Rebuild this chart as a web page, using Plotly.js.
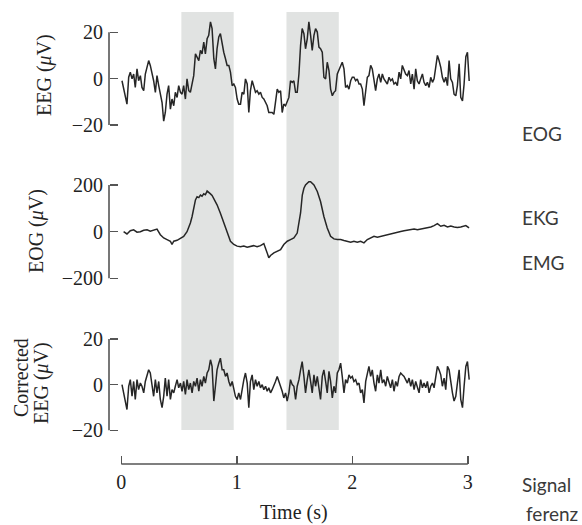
<!DOCTYPE html>
<html>
<head>
<meta charset="utf-8">
<script src="https://cdn.plot.ly/plotly-3.0.1.min.js"></script>
<style>html,body{margin:0;padding:0;background:#fff;}#chart{width:582px;height:525px;}</style>
</head>
<body>
<div id="chart"></div>
<script>
// ---- data ----
const time = [0.006,0.020,0.035,0.049,0.064,0.078,0.093,0.107,0.121,0.136,
0.150,0.165,0.179,0.194,0.208,0.223,0.237,0.251,0.266,0.280,
0.295,0.309,0.324,0.338,0.353,0.367,0.381,0.396,0.410,0.425,
0.439,0.454,0.468,0.483,0.497,0.512,0.526,0.540,0.555,0.569,
0.584,0.598,0.613,0.627,0.642,0.656,0.671,0.685,0.699,0.714,
0.728,0.743,0.757,0.772,0.786,0.801,0.815,0.829,0.844,0.858,
0.873,0.887,0.902,0.916,0.931,0.945,0.960,0.974,0.988,1.003,
1.017,1.032,1.046,1.061,1.075,1.090,1.104,1.118,1.133,1.147,
1.162,1.176,1.191,1.205,1.220,1.234,1.249,1.263,1.277,1.292,
1.306,1.321,1.335,1.350,1.364,1.379,1.393,1.407,1.422,1.436,
1.451,1.465,1.480,1.494,1.509,1.523,1.538,1.552,1.566,1.581,
1.595,1.610,1.624,1.639,1.653,1.668,1.682,1.697,1.711,1.725,
1.740,1.754,1.769,1.783,1.798,1.812,1.827,1.841,1.855,1.870,
1.884,1.899,1.913,1.928,1.942,1.957,1.971,1.986,2.000,2.014,
2.029,2.043,2.058,2.072,2.087,2.101,2.116,2.130,2.144,2.159,
2.173,2.188,2.202,2.217,2.231,2.246,2.260,2.274,2.289,2.303,
2.318,2.332,2.347,2.361,2.376,2.390,2.405,2.419,2.433,2.448,
2.462,2.477,2.491,2.506,2.520,2.535,2.549,2.563,2.578,2.592,
2.607,2.621,2.636,2.650,2.665,2.679,2.694,2.708,2.722,2.737,
2.751,2.766,2.780,2.795,2.809,2.824,2.838,2.852,2.867,2.881,
2.896,2.910,2.925,2.939,2.954,2.968,2.983,2.997,3.012];

const eeg = [-0.9,-3.8,-7.4,-11.0,0.6,2.8,-0.1,2.0,-3.8,4.2,
-0.9,1.3,-3.8,-5.2,2.0,5.7,7.8,5.7,2.8,-0.9,
-5.9,1.3,-3.0,-7.4,-10.3,-18.3,-14.6,-6.7,-3.0,-13.2,
-8.8,-11.7,-5.9,-8.1,-3.0,-5.9,-6.7,-3.0,-8.8,-0.1,
-5.2,-5.9,-1.6,1.3,10.7,9.3,7.8,12.2,10.7,15.8,
10.7,17.2,18.7,24.5,21.6,8.6,4.2,12.9,18.0,19.4,
14.3,11.4,8.6,5.7,5.7,2.8,-3.0,-2.3,-3.8,-8.8,
-11.0,-11.0,-5.9,-6.7,-0.1,-2.3,-14.6,-5.2,-0.9,-3.8,
-5.9,-5.2,-6.7,-5.9,-8.1,-8.8,-10.3,-11.7,-14.6,-14.6,
-14.6,-15.4,-9.6,-4.5,-5.9,-5.2,-14.6,-11.0,-11.7,-10.3,
-8.1,-0.9,-1.6,-0.9,-5.9,-5.9,2.0,14.3,21.6,19.4,
12.9,17.2,24.5,18.7,12.2,18.7,21.6,20.1,13.6,12.9,
11.4,0.6,-0.1,7.1,3.5,-4.5,-7.4,-5.9,-5.2,2.0,
3.5,4.9,7.1,4.2,-3.8,-3.0,-4.5,-0.9,0.6,0.6,
-0.9,-0.1,-2.3,-2.3,-4.5,-11.7,-5.2,0.6,1.3,5.7,
4.2,-1.6,-5.2,-0.1,2.0,-1.6,2.0,-0.1,-1.6,-2.3,
0.6,-0.9,-0.1,-2.3,-1.6,-3.0,2.8,-0.1,5.7,3.5,
2.0,1.3,3.5,-2.3,2.0,-4.5,4.2,-0.9,-2.3,-0.1,
2.0,-1.6,-3.0,-1.6,-3.8,0.6,-1.6,-0.1,5.7,10.0,
7.8,4.9,0.6,-1.6,0.6,-3.0,7.8,-0.1,-1.6,-6.7,
-7.4,-3.0,6.4,-8.1,-9.6,-2.3,9.5,11.4,-1.0];

const corrected = [0,-3.6,-6.5,-10.9,-0.7,2.2,-5.1,1.4,-6.5,2.2,
-2.2,0.7,-0.7,-3.6,1.4,4.3,6.5,5.1,0.7,-5.1,
2.2,-3.6,1.4,-6.5,-10.1,-5.1,2.9,-5.1,2.2,-6.5,
-2.2,-3.6,-0.7,2.2,-1.4,0.7,-2.9,1.4,-4.3,2.2,
-2.2,0.7,-3.6,1.4,-0.7,2.9,-2.9,2.2,-0.7,3.6,
0.7,5.1,6.5,10.9,8.0,-7.2,-0.7,6.5,9.4,11.6,
6.5,6.5,3.6,5.1,1.4,-0.7,1.4,-1.4,-5.1,-6.5,
-3.6,-6.5,-1.4,2.2,5.1,0.7,-10.1,1.4,4.3,-2.2,
2.2,-0.7,1.4,-1.4,0,-2.2,-0.7,-2.9,-1.4,-3.6,
-2.2,-0.7,1.4,3.6,1.4,0,-2.9,-5.8,-3.6,-7.2,
-3.6,2.2,0,-0.7,-6.5,-0.7,2.2,6.5,10.1,3.6,
-3.6,2.2,6.5,1.4,-3.6,4.3,-0.7,3.6,-2.2,-6.5,
3.6,6.5,1.4,-3.6,5.8,1.4,-5.8,-0.7,-3.6,5.1,
6.5,9.4,3.6,-3.6,2.2,0.7,4.3,2.9,3.6,1.4,
2.2,0,0.7,-3.6,-2.2,-8.0,1.4,5.1,8.0,3.6,
6.5,0.7,-2.9,4.3,0.7,6.5,0.7,2.2,-0.7,3.6,
0.7,-1.4,2.2,-2.9,1.4,-0.7,3.6,5.1,4.3,3.6,
2.2,0.7,2.9,-0.7,2.2,-2.2,1.4,-0.7,-3.6,2.2,
-1.4,0.7,-1.4,1.4,-3.6,-0.7,0.7,-1.4,3.6,8.0,
6.5,4.3,-0.7,2.9,-2.2,8.0,6.5,0.7,-3.6,-7.2,
-5.1,0.7,6.5,-6.5,-10.1,-0.7,8.0,10.1,2.2];

const eogTime = [0.020,0.049,0.078,0.107,0.136,0.165,0.194,0.223,0.251,0.280,0.309,0.338,0.367,0.396,
0.425,0.439,0.454,0.483,0.512,0.540,0.569,0.584,0.598,0.613,
0.627,0.642,0.656,0.671,0.685,0.699,0.714,0.728,0.743,0.757,0.772,0.786,0.800,0.829,0.858,
0.887,0.916,0.945,0.974,1.003,1.032,1.061,1.090,1.119,1.147,
1.176,1.205,1.234,1.249,1.263,1.277,1.292,1.321,1.350,1.379,
1.407,1.437,1.465,1.494,1.523,1.538,1.552,1.567,1.581,1.595,1.610,
1.624,1.639,1.653,1.668,1.697,1.725,1.754,1.783,1.812,1.841,1.870,
1.899,1.928,1.957,1.986,2.014,2.043,2.072,2.101,2.130,2.159,
2.188,2.217,2.246,2.275,2.304,2.333,2.362,2.390,2.419,2.448,2.477,2.506,2.535,2.564,2.593,2.622,2.651,2.680,2.708,
2.737,2.766,2.795,2.824,2.853,2.882,2.910,2.939,2.960,2.983,3.011];
const eog = [0,-10,4,8,-2,0,6,8,2,5,11,-13,-27,-34,
-41,-55,-41,-37,-27,-20,0,16,37,65,
108,136,150,146,157,152,162,158,174,166,162,155,143,115,79,
37,-6,-41,-55,-62,-65,-62,-67,-62,-60,
-65,-60,-51,-69,-91,-112,-102,-91,-84,-77,
-55,-41,-34,-27,-6,37,80,157,186,200,207,
214,214,208,200,172,129,65,16,-20,-31,-34,
-34,-38,-41,-45,-41,-45,-41,-48,-34,-27,
-20,-24,-20,-16,-13,-10,-6,-2,1,4,6,9,11,8,11,14,16,20,26,
34,23,27,20,24,20,18,20,23,26,16];

const bandStart = [0.52, 1.43];
const bandEnd = [0.973, 1.883];
const xTicks = [0, 1, 2, 3];
const yTicks1 = [-20, 0, 20];
const yTicks2 = [-200, 0, 200];
const yTicks3 = [-20, 0, 20];
const sideLabels = ['EOG', 'EKG', 'EMG', 'Signal', 'ferenz'];

// ---- layout helpers ----
const W = 582, H = 525;
const px = x => x / W;
const py = y => 1 - y / H;
function yRange(pTop, pBot, vA, pA, vB, pB) {
  const s = (vA - vB) / (pB - pA);
  return [vB - (pBot - pB) * s, vA + (pA - pTop) * s];
}
function xRange(pL, pR, vA, pA, vB, pB) {
  const s = (vB - vA) / (pB - pA);
  return [vA - (pA - pL) * s, vB + (pR - pB) * s];
}

const serif = 'Liberation Serif, Times New Roman, serif';
const axisCol = '#555';
const lineCol = '#262626';
const yAxisX = 109;

function yax(dom, rng, ticks) {
  return {
    domain: [py(dom[1]), py(dom[0])], range: rng, anchor: 'free', position: px(yAxisX),
    showgrid: false, zeroline: false, showline: false,
    ticks: 'inside', ticklen: 8, tickwidth: 1.5, tickcolor: axisCol,
    tickvals: ticks, ticklabelstandoff: 6,
    tickfont: {family: serif, size: 20, color: '#222'}
  };
}

const traces = [
  {x: time, y: eeg, xaxis: 'x', yaxis: 'y', type: 'scatter', mode: 'lines', line: {color: lineCol, width: 1.5}, hoverinfo: 'skip'},
  {x: eogTime, y: eog, xaxis: 'x', yaxis: 'y2', type: 'scatter', mode: 'lines', line: {color: lineCol, width: 1.5}, hoverinfo: 'skip'},
  {x: time, y: corrected, xaxis: 'x', yaxis: 'y3', type: 'scatter', mode: 'lines', line: {color: lineCol, width: 1.5}, hoverinfo: 'skip'}
];

const shapes = [];
for (let i = 0; i < bandStart.length; i++) {
  shapes.push({type: 'rect', xref: 'x', yref: 'paper', x0: bandStart[i], x1: bandEnd[i],
    y0: py(430), y1: py(12), fillcolor: '#e1e3e2', line: {width: 0}, layer: 'below'});
}
[['y', yTicks1], ['y2', yTicks2], ['y3', yTicks3]].forEach(([ax, t]) => {
  shapes.push({type: 'line', xref: 'paper', yref: ax, x0: px(yAxisX), x1: px(yAxisX),
    y0: t[0], y1: t[t.length - 1], line: {color: axisCol, width: 1.6}});
});
shapes.push({type: 'line', xref: 'x', yref: 'paper', x0: xTicks[0], x1: xTicks[xTicks.length - 1],
  y0: py(464), y1: py(464), line: {color: axisCol, width: 1.6}});

const titleFont = {family: serif, size: 20, color: '#222'};
const sansFont = {family: 'Lato, Noto Sans, sans-serif', size: 19, color: '#3a3a3a'};
const ann = (text, x, y, extra) => Object.assign({text, x: px(x), y: py(y), xref: 'paper', yref: 'paper', showarrow: false, xanchor: 'center', yanchor: 'middle'}, extra);

const annotations = [
  ann('EEG (<i>μ</i>V)', 45, 75, {textangle: -90, font: titleFont}),
  ann('EOG (<i>μ</i>V)', 37, 231, {textangle: -90, font: titleFont}),
  ann('Corrected', 21, 377, {textangle: -90, font: titleFont}),
  ann('EEG (<i>μ</i>V)', 41, 383, {textangle: -90, font: titleFont}),
  ann('Time (s)', 294, 512, {font: titleFont}),
  ann(sideLabels[0], 520, 133, {xanchor: 'left', font: sansFont}),
  ann(sideLabels[1], 520, 218, {xanchor: 'left', font: sansFont}),
  ann(sideLabels[2], 520, 262, {xanchor: 'left', font: sansFont}),
  ann(sideLabels[3], 520, 484, {xanchor: 'left', font: sansFont}),
  ann(sideLabels[4], 524, 513, {xanchor: 'left', font: sansFont})
];

const layout = {
  width: W, height: H, margin: {l: 0, r: 0, t: 0, b: 0},
  paper_bgcolor: '#fff', plot_bgcolor: 'rgba(0,0,0,0)', showlegend: false,
  font: {family: serif, size: 20, color: '#222'},
  xaxis: {
    domain: [px(115), px(476)], range: xRange(115, 476, 0, 121.3, 3, 467.8),
    anchor: 'free', position: py(464),
    showgrid: false, zeroline: false, showline: false,
    ticks: 'inside', ticklen: 8, tickwidth: 1.5, tickcolor: axisCol,
    tickvals: xTicks, ticklabelstandoff: 4,
    tickfont: {family: serif, size: 20, color: '#222'}
  },
  yaxis: yax([10, 140], yRange(10, 140, 20, 32.3, -20, 125), yTicks1),
  yaxis2: yax([150, 300], yRange(150, 300, 200, 185, -200, 278.3), yTicks2),
  yaxis3: yax([318, 445], yRange(318, 445, 20, 339, -20, 430.3), yTicks3),
  shapes, annotations
};

Plotly.newPlot('chart', traces, layout, {staticPlot: true, displayModeBar: false});
</script>
</body>
</html>
